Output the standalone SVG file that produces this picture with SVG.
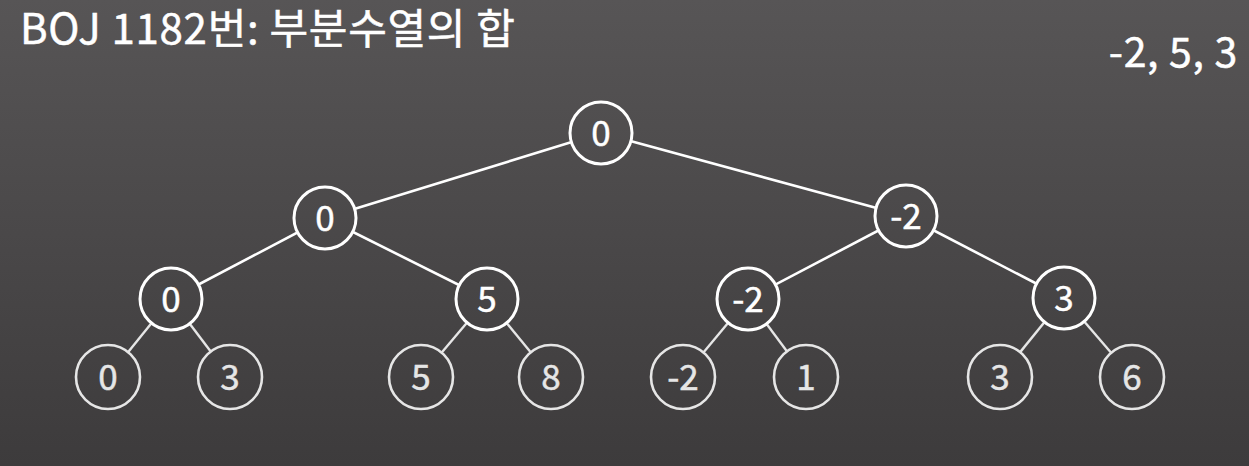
<svg xmlns="http://www.w3.org/2000/svg" width="1249" height="466" viewBox="0 0 1249 466">
<defs>
<linearGradient id="bg" gradientUnits="userSpaceOnUse" x1="0" y1="0" x2="0" y2="466">
<stop offset="0" stop-color="#575556"/>
<stop offset="1" stop-color="#3d3b3c"/>
</linearGradient>
<style>
text{font-family:"Noto Sans CJK KR","Noto Sans",sans-serif;font-weight:400;fill:#ffffff;stroke:#ffffff;stroke-width:0.5}
.n circle{fill:url(#bg);stroke:#ffffff;stroke-width:3}
.n text{font-size:35px;text-anchor:middle}
.leaf circle{stroke:#e6e6e6;stroke-width:2.6}
.leaf text{fill:#e6e6e6;stroke:#e6e6e6}
.e line{stroke:#ffffff;stroke-width:2.6}
.e line.l{stroke:#e6e6e6;stroke-width:2.4}
</style>
</defs>
<rect width="1249" height="466" fill="url(#bg)"/>
<text x="20" y="44" font-size="42" letter-spacing="0.7">BOJ 1182번: 부분수열의 합</text>
<text x="1238" y="67" font-size="41" text-anchor="end" letter-spacing="0.7">-2, 5, 3</text>
<g class="e" id="edges">
<line x1="601" y1="133" x2="325" y2="218"/>
<line x1="601" y1="133" x2="906" y2="216"/>
<line x1="325" y1="218" x2="171" y2="299"/>
<line x1="325" y1="218" x2="487" y2="299"/>
<line x1="906" y1="216" x2="748" y2="299"/>
<line x1="906" y1="216" x2="1064" y2="298"/>
<line class="l" x1="171" y1="299" x2="108" y2="377"/>
<line class="l" x1="171" y1="299" x2="230" y2="377"/>
<line class="l" x1="487" y1="299" x2="421" y2="377"/>
<line class="l" x1="487" y1="299" x2="551" y2="377"/>
<line class="l" x1="748" y1="299" x2="683" y2="377"/>
<line class="l" x1="748" y1="299" x2="806" y2="377"/>
<line class="l" x1="1064" y1="298" x2="1000" y2="377"/>
<line class="l" x1="1064" y1="298" x2="1132" y2="377"/>
</g>
<g class="n" id="n0"><circle cx="601" cy="133" r="31"/><text x="601" y="146">0</text></g>
<g class="n" id="n1"><circle cx="325" cy="218" r="31"/><text x="325" y="231">0</text></g>
<g class="n" id="n2"><circle cx="906" cy="216" r="31"/><text x="906" y="229">-2</text></g>
<g class="n" id="n3"><circle cx="171" cy="299" r="31"/><text x="171" y="312">0</text></g>
<g class="n" id="n4"><circle cx="487" cy="299" r="31"/><text x="487" y="312">5</text></g>
<g class="n" id="n5"><circle cx="748" cy="299" r="31"/><text x="748" y="312">-2</text></g>
<g class="n" id="n6"><circle cx="1064" cy="298" r="31"/><text x="1064" y="311">3</text></g>
<g class="n leaf" id="n7"><circle cx="108" cy="377" r="32"/><text x="108" y="390">0</text></g>
<g class="n leaf" id="n8"><circle cx="230" cy="377" r="32"/><text x="230" y="390">3</text></g>
<g class="n leaf" id="n9"><circle cx="421" cy="377" r="32"/><text x="421" y="390">5</text></g>
<g class="n leaf" id="n10"><circle cx="551" cy="377" r="32"/><text x="551" y="390">8</text></g>
<g class="n leaf" id="n11"><circle cx="683" cy="377" r="32"/><text x="683" y="390">-2</text></g>
<g class="n leaf" id="n12"><circle cx="806" cy="377" r="32"/><text x="806" y="390">1</text></g>
<g class="n leaf" id="n13"><circle cx="1000" cy="377" r="32"/><text x="1000" y="390">3</text></g>
<g class="n leaf" id="n14"><circle cx="1132" cy="377" r="32"/><text x="1132" y="390">6</text></g>
</svg>
